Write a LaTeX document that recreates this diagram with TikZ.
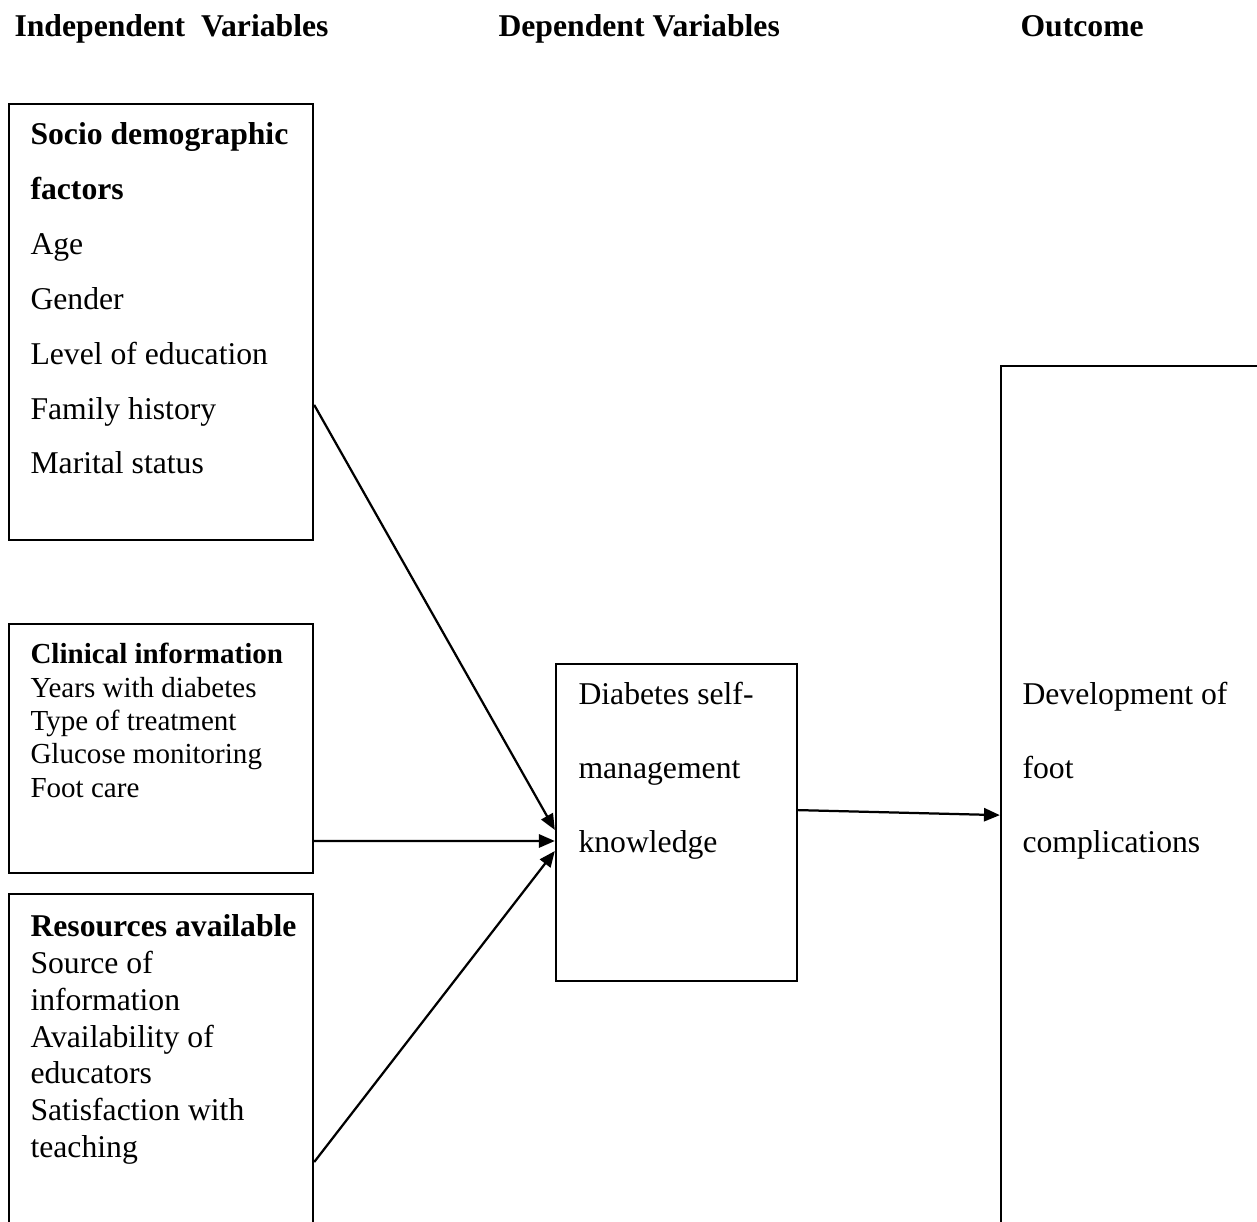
\documentclass[tikz,border=0pt]{standalone}
\usepackage{fontspec}
\setmainfont{Liberation Serif}
\usepackage{xcolor}
\usepackage{tikz}
\usetikzlibrary{arrows.meta,calc,fit,positioning}
\definecolor{inkblack}{RGB}{0,0,0}
\tikzset{
  framebox/.style={draw=inkblack,line width=0.9pt,inner sep=0pt},
  flow/.style={-{Triangle[length=6pt,width=5pt]},line width=0.85pt,draw=inkblack},
  heading/.style={anchor=base west,inner sep=0pt,font=\bfseries\fontsize{12pt}{14pt}\selectfont},
  listtext/.style={anchor=north west,inner sep=0pt,align=left},
  widelist/.style={listtext,font=\fontsize{12pt}{20.8pt}\selectfont},
  tightlist/.style={listtext,font=\fontsize{11pt}{12.6pt}\selectfont},
  plainlist/.style={listtext,font=\fontsize{12pt}{13.95pt}\selectfont},
  doublelist/.style={listtext,font=\fontsize{12pt}{28pt}\selectfont}
}

\begin{document}
\begin{tikzpicture}[x=0.3788pt,y=-0.3788pt]
  \useasboundingbox (0,0) rectangle (1257,1221);
  \clip (0,0) rectangle (1257,1221);
  % column headings
  \node[heading] (hindep) at (14,36) {Independent\ \ Variables};
  \node[heading] (hdep) at (498,36) {Dependent Variables};
  \node[heading] (hout) at (1020,36) {Outcome};
  % boxes
  \node[framebox,fit={(9,104) (313,540)}] (socio) {};
  \node[framebox,fit={(9,624) (313,873)}] (clinic) {};
  \node[framebox,fit={(9,894) (313,1260)}] (resource) {};
  \node[framebox,fit={(556,664) (797,981)}] (dsmk) {};
  \node[framebox,fit={(1001,366) (1290,1260)}] (outcome) {};
  % box texts
  \node[widelist] (sociotext) at (30,122) {\textbf{Socio demographic}\\
    \textbf{factors}\\ Age\\ Gender\\ Level of education\\ Family history\\
    Marital status};
  \node[tightlist] (clinictext) at (30,643) {\textbf{Clinical information}\\
    Years with diabetes\\ Type of treatment\\ Glucose monitoring\\ Foot care};
  \node[plainlist] (resourcetext) at (30,914) {\textbf{Resources available}\\
    Source of\\ information\\ Availability of\\ educators\\ Satisfaction with\\
    teaching};
  \node[doublelist] (dsmktext) at (578,682) {Diabetes self-\\ management\\
    knowledge};
  \node[doublelist] (outcometext) at (1022,682) {Development of\\ foot\\
    complications};
  % connectors
  \draw[flow] ([yshift=-31.4pt]socio.east) -- ([yshift=-2.8pt]dsmk.west);
  \draw[flow] ([yshift=-35pt]clinic.east) -- ([yshift=-7pt]dsmk.west);
  \draw[flow] ([yshift=-32.2pt]resource.east) -- ([yshift=-10.8pt]dsmk.west);
  \draw[flow] ([yshift=4.7pt]dsmk.east) -- ([yshift=-0.8pt]outcome.west);
\end{tikzpicture}
\end{document}
